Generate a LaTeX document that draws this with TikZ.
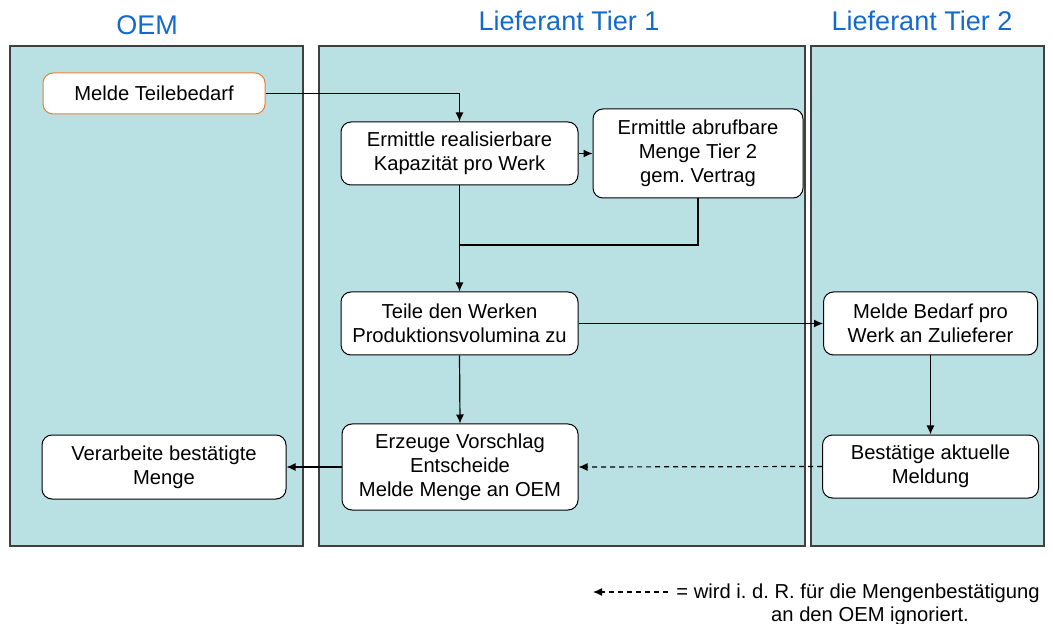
\documentclass[tikz,border=0pt]{standalone}
\usepackage{fontspec}
\setmainfont{Liberation Sans}
\usetikzlibrary{arrows.meta,positioning,calc}
\definecolor{lanefill}{RGB}{185,224,227}
\definecolor{lanehead}{RGB}{20,105,205}
\definecolor{startorange}{RGB}{237,125,49}

\begin{document}
\frenchspacing
\begin{tikzpicture}[x=0.5pt, y=-0.5pt,
  lane/.style={draw=black!75, line width=0.75pt, fill=lanefill},
  lanetitle/.style={text=lanehead, font=\fontsize{13.5}{15}\selectfont},
  task/.style={draw, fill=white, rounded corners=5pt, align=center, inner sep=0pt,
    line width=0.5pt, font=\fontsize{10.1}{12}\selectfont},
  arr/.style={-{Latex[length=4.5pt, width=4pt]}, line width=0.6pt},
  dsh/.style={arr, dash pattern=on 2.5pt off 2pt}
]
\useasboundingbox (0,0) rectangle (1053,624);

% swimlanes
\foreach \xa/\xb in {10/303, 319/805, 811/1044}
  \draw[lane] (\xa,46) rectangle (\xb,546);
\node[lanetitle] (toem)  at (147,25) {OEM};
\node[lanetitle] (tier1) at (569,21) {Lieferant Tier 1};
\node[lanetitle] (tier2) at (922,21) {Lieferant Tier 2};

% tasks
\node[task, draw=startorange, minimum width=111pt, minimum height=20.5pt] (bedarf) at (154,93.5) {Melde Teilebedarf};
\node[task, minimum width=118.5pt, minimum height=31.5pt] (kap) at (459.5,153.5) {Ermittle realisierbare\\Kapazität pro Werk};
\node[task, minimum width=105pt, minimum height=44.5pt] (abruf) at (698,153.5) {Ermittle abrufbare\\Menge Tier 2\\gem. Vertrag};
\node[task, minimum width=118.5pt, minimum height=31.5pt] (vol) at (459.5,323.5) {Teile den Werken\\Produktionsvolumina zu};
\node[task, minimum width=107pt, minimum height=31.5pt] (zulief) at (930.5,323.5) {Melde Bedarf pro\\Werk an Zulieferer};
\node[task, minimum width=108pt, minimum height=31.5pt] (best) at (930.5,466.5) {Bestätige aktuelle\\Meldung};
\node[task, minimum width=118pt, minimum height=43pt] (vorschlag) at (460,467) {Erzeuge Vorschlag\\Entscheide\\Melde Menge an OEM};
\node[task, minimum width=122pt, minimum height=32pt] (verarb) at (164,467) {Verarbeite bestätigte\\Menge};

% flow
\coordinate (join) at (459.5,245);
\draw[arr] (bedarf.east) -| (kap.north);
\draw[arr] (kap.east) -- (abruf.west);
\draw[line width=0.6pt] (abruf.south) |- (join);
\draw[arr] (kap.south) -- (vol.north);
\draw[arr] (vol.east) -- (zulief.west);
\draw[arr] (zulief.south) -- (best.north);
\draw[arr] (vol.south) -- (vorschlag.north);
\draw[dsh] (best.west) -- (vorschlag.east);
\draw[arr] (vorschlag.west) -- (verarb.east);

% legend
\coordinate (legR) at (668,592);
\coordinate (legL) at (593,592);
\draw[dsh] (legR) -- (legL);
\node[anchor=base west, inner sep=0pt, font=\fontsize{10.1}{12}\selectfont] (leg1) at (676,598.5) {= wird i. d. R. für die Mengenbestätigung};
\node[anchor=base, inner sep=0pt, font=\fontsize{10.1}{12}\selectfont] (leg2) at (870,621) {an den OEM ignoriert.};
\end{tikzpicture}
\end{document}
